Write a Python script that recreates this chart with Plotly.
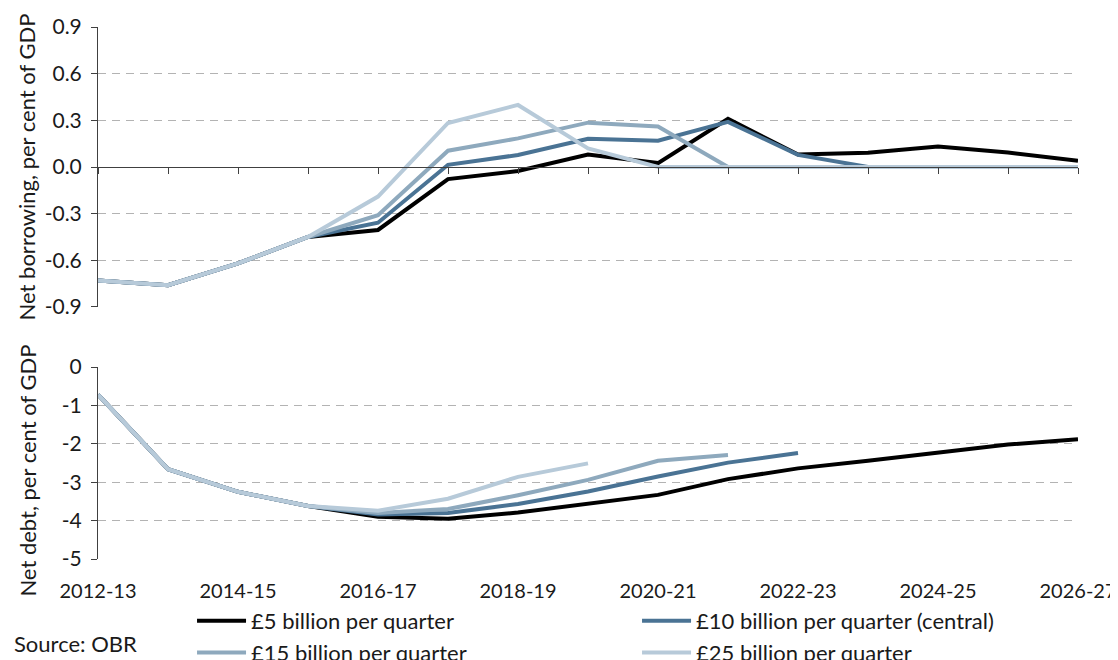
import plotly.graph_objects as go

years = ["2012-13", "2013-14", "2014-15", "2015-16", "2016-17", "2017-18", "2018-19",
         "2019-20", "2020-21", "2021-22", "2022-23", "2023-24", "2024-25", "2025-26", "2026-27"]

series_names = ["£5 billion per quarter", "£10 billion per quarter (central)",
                "£15 billion per quarter", "£25 billion per quarter"]
colors = ["#000000", "#4a7394", "#8ea9bd", "#b7cad9"]

# Net borrowing, per cent of GDP
borrow_5 = [-0.73, -0.76, -0.62, -0.45, -0.405, -0.078, -0.026, 0.08, 0.025, 0.31, 0.08, 0.092, 0.132, 0.093, 0.04]
borrow_10 = [-0.73, -0.76, -0.62, -0.45, -0.358, 0.014, 0.077, 0.181, 0.169, 0.29, 0.078, 0.0, 0.0, 0.0, 0.0]
borrow_15 = [-0.73, -0.76, -0.62, -0.45, -0.31, 0.105, 0.184, 0.285, 0.26, 0.0, 0.0, 0.0, 0.0, 0.0, 0.0]
borrow_25 = [-0.73, -0.76, -0.62, -0.45, -0.19, 0.283, 0.399, 0.12, 0.0, 0.0, 0.0, 0.0, 0.0, 0.0, 0.0]

# Net debt, per cent of GDP
debt_5 = [-0.72, -2.66, -3.25, -3.62, -3.90, -3.95, -3.79, -3.55, -3.33, -2.92, -2.64, -2.44, -2.23, -2.02, -1.88]
debt_10 = [-0.72, -2.66, -3.25, -3.62, -3.84, -3.80, -3.57, -3.24, -2.85, -2.49, -2.24, None, None, None, None]
debt_15 = [-0.72, -2.66, -3.25, -3.62, -3.80, -3.70, -3.34, -2.94, -2.44, -2.29, None, None, None, None, None]
debt_25 = [-0.72, -2.66, -3.25, -3.62, -3.74, -3.43, -2.86, -2.51, None, None, None, None, None, None, None]

borrow = [borrow_5, borrow_10, borrow_15, borrow_25]
debt = [debt_5, debt_10, debt_15, debt_25]

top_ticks = [-0.9, -0.6, -0.3, 0.0, 0.3, 0.6, 0.9]
top_ticktext = ["-0.9", "-0.6", "-0.3", "0.0", "0.3", "0.6", "0.9"]
bot_ticks = [-5, -4, -3, -2, -1, 0]
bot_ticktext = ["-5", "-4", "-3", "-2", "-1", "0"]

FONT = "Lato"
FS_TICK = 20
FS_TEXT = 22
AXC = "#404040"
GRID = "#b3b3b3"
DASH = "8px,6px"

fig = go.Figure()
for name, col, b in zip(series_names, colors, borrow):
    fig.add_trace(go.Scatter(x=years, y=b, name=name, mode="lines",
                             line=dict(color=col, width=4), xaxis="x", yaxis="y"))
for name, col, d in zip(series_names, colors, debt):
    fig.add_trace(go.Scatter(x=years, y=d, name=name, mode="lines", showlegend=False,
                             line=dict(color=col, width=4), xaxis="x2", yaxis="y2"))

top_dom = [0.4737, 1.0]
bot_dom = [0.0, 0.3609]

fig.update_layout(
    width=1110, height=652,
    margin=dict(l=90, r=40, t=19, b=101, autoexpand=False),
    paper_bgcolor="white", plot_bgcolor="white",
    font=dict(family=FONT, size=FS_TICK, color="#1a1a1a"),
    xaxis=dict(type="category", range=[0, 14], anchor="free", position=(top_dom[0] + top_dom[1]) / 2,
               tickmode="array", tickvals=years, showticklabels=False, automargin=False,
               ticks="outside", ticklen=6, tickcolor=AXC, showline=True, linecolor=AXC, linewidth=1,
               showgrid=False, zeroline=False),
    yaxis=dict(domain=top_dom, range=[-0.9, 0.9], tickmode="array", tickvals=top_ticks, ticktext=top_ticktext,
               ticks="outside", ticklen=6, tickcolor=AXC, showline=True, linecolor=AXC, linewidth=1,
               showgrid=True, gridcolor=GRID, griddash=DASH, gridwidth=1, zeroline=False,
               automargin=False, ticklabelstandoff=5, tickfont=dict(size=21)),
    xaxis2=dict(type="category", range=[0, 14], anchor="y2", tickmode="array", tickvals=years[::2],
                ticktext=years[::2], ticks="", showline=False, showgrid=False, zeroline=False,
                automargin=False, ticklabelstandoff=18),
    xaxis3=dict(type="linear", range=[0, 14], overlaying="x2", anchor="y2", side="top",
                tickmode="linear", tick0=0, dtick=1, ticks="inside", ticklen=6, tickcolor=AXC,
                showticklabels=False, showline=True, linecolor=AXC, linewidth=1,
                showgrid=False, zeroline=False, automargin=False),
    yaxis2=dict(domain=bot_dom, anchor="x2", range=[-5, 0], tickmode="array", tickvals=bot_ticks,
                ticktext=bot_ticktext, ticks="outside", ticklen=6, tickcolor=AXC, showline=True,
                linecolor=AXC, linewidth=1, showgrid=True, gridcolor=GRID, griddash=DASH,
                gridwidth=1, zeroline=False, automargin=False, ticklabelstandoff=5,
                tickfont=dict(size=21)),
    legend=dict(orientation="h", xref="container", yref="container", x=0.1658, y=0.092,
                xanchor="left", yanchor="top",
                entrywidth=381, entrywidthmode="pixels", font=dict(size=FS_TEXT, family=FONT),
                bgcolor="rgba(0,0,0,0)", traceorder="normal", itemwidth=49),
    showlegend=True,
)

fig.add_annotation(text="Net borrowing, per cent of GDP", xref="paper", yref="paper",
                   x=-0.072, y=(top_dom[0] + top_dom[1]) / 2, textangle=-90, showarrow=False,
                   xanchor="center", yanchor="middle", font=dict(size=FS_TEXT, family=FONT))
fig.add_annotation(text="Net debt, per cent of GDP", xref="paper", yref="paper",
                   x=-0.072, y=0.167, textangle=-90, showarrow=False,
                   xanchor="center", yanchor="middle", font=dict(size=FS_TEXT, family=FONT))
fig.add_annotation(text="Source: OBR", xref="paper", yref="paper",
                   x=-0.0878, y=-0.158, showarrow=False, xanchor="left", yanchor="middle",
                   font=dict(size=FS_TEXT, family=FONT))

fig.write_html("out.html")
